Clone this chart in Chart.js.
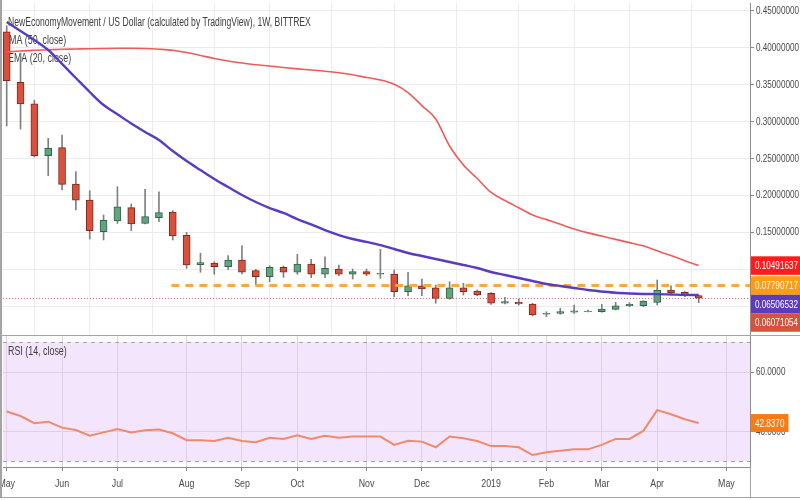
<!DOCTYPE html>
<html>
<head>
<meta charset="utf-8">
<script src="https://cdn.jsdelivr.net/npm/chart.js@4.4.0/dist/chart.umd.min.js"></script>
<style>
html, body { margin: 0; padding: 0; background: #fff; }
#wrap { position: relative; width: 800px; height: 500px; overflow: hidden; }
#top { position: absolute; left: 0; top: 0; width: 800px; height: 336px; }
#bot { position: absolute; left: 0; top: 336px; width: 800px; height: 164px; }
.ln { position: absolute; background: #a4a4a4; }
</style>
</head>
<body>
<div id="wrap">
  <div id="top"><canvas id="cTop"></canvas></div>
  <div id="bot"><canvas id="cBot"></canvas></div>
  <div class="ln" style="left:0;top:335px;width:800px;height:1px"></div>
  <div class="ln" style="left:0;top:0;width:2px;height:498px"></div>
  <div class="ln" style="left:0;top:497px;width:800px;height:1px"></div>
  <div class="ln" style="left:750px;top:467px;width:1px;height:31px"></div>
</div>
<script>
// weekly candles, week 0 = 7 May 2018 ... week 50 = 22 Apr 2019
const monthTickWeeks = [0, 4, 8, 13, 17, 21, 26, 30, 35, 39, 43, 47, 52];
const monthTickLabels = ['May', 'Jun', 'Jul', 'Aug', 'Sep', 'Oct', 'Nov', 'Dec', '2019', 'Feb', 'Mar', 'Apr', 'May'];

const opens = [0.4219, 0.3533, 0.3240, 0.2539, 0.2647, 0.2155, 0.1938, 0.1508, 0.1653, 0.1834,
  0.1622, 0.1698, 0.1775, 0.1459, 0.1061, 0.1084, 0.1034, 0.1125, 0.0980, 0.0898,
  0.1026, 0.0958, 0.1070, 0.0931, 0.1003, 0.0931, 0.0966, 0.0931, 0.0935, 0.0695,
  0.0776, 0.0749, 0.0605, 0.0749, 0.0704, 0.0673, 0.0538, 0.0551, 0.0528, 0.0389,
  0.0402, 0.0416, 0.0424, 0.0424, 0.0456, 0.0505, 0.0505, 0.0551, 0.0718, 0.0687,
  0.0641];
const highs = [0.4300, 0.3930, 0.3290, 0.2774, 0.2819, 0.2322, 0.2064, 0.1735, 0.2118, 0.1884,
  0.2083, 0.2050, 0.1793, 0.1500, 0.1215, 0.1102, 0.1183, 0.1318, 0.0998, 0.1047,
  0.1043, 0.1202, 0.1134, 0.1169, 0.1057, 0.1003, 0.1003, 0.1270, 0.0989, 0.0958,
  0.0867, 0.0786, 0.0831, 0.0809, 0.0718, 0.0682, 0.0619, 0.0596, 0.0538, 0.0424,
  0.0470, 0.0515, 0.0447, 0.0524, 0.0551, 0.0546, 0.0573, 0.0854, 0.0776, 0.0695,
  0.0650];
const lows = [0.2940, 0.2900, 0.2520, 0.2267, 0.2074, 0.1802, 0.1409, 0.1396, 0.1620, 0.1522,
  0.1613, 0.1644, 0.1396, 0.1012, 0.0958, 0.0931, 0.0998, 0.0935, 0.0786, 0.0831,
  0.0890, 0.0931, 0.0885, 0.0885, 0.0912, 0.0867, 0.0912, 0.0876, 0.0627, 0.0641,
  0.0641, 0.0538, 0.0592, 0.0650, 0.0641, 0.0524, 0.0528, 0.0514, 0.0366, 0.0356,
  0.0389, 0.0402, 0.0420, 0.0416, 0.0447, 0.0492, 0.0492, 0.0515, 0.0673, 0.0627,
  0.0546];
const closes = [0.3555, 0.3240, 0.2539, 0.2639, 0.2150, 0.1934, 0.1522, 0.1663, 0.1847, 0.1613,
  0.1712, 0.1766, 0.1450, 0.1057, 0.1088, 0.1034, 0.1125, 0.0958, 0.0898, 0.1026,
  0.0958, 0.1070, 0.0931, 0.1012, 0.0931, 0.0966, 0.0931, 0.0944, 0.0695, 0.0776,
  0.0732, 0.0605, 0.0749, 0.0695, 0.0650, 0.0538, 0.0560, 0.0528, 0.0379, 0.0402,
  0.0424, 0.0437, 0.0433, 0.0460, 0.0505, 0.0524, 0.0569, 0.0718, 0.0682, 0.0637,
  0.06071054];

const ma50 = [0.3944, 0.3958, 0.3967, 0.3974, 0.3981, 0.3985, 0.3989, 0.3992, 0.3994, 0.3994,
  0.3992, 0.3982, 0.3967, 0.3937, 0.3897, 0.3856, 0.3822, 0.3795, 0.3772, 0.3754,
  0.3734, 0.3716, 0.3700, 0.3683, 0.3662, 0.3635, 0.3599, 0.3565, 0.3506, 0.3395,
  0.3218, 0.3036, 0.2670, 0.2412, 0.2229, 0.2040, 0.1931, 0.1833, 0.1735, 0.1672,
  0.1610, 0.1545, 0.1492, 0.1449, 0.1404, 0.1360, 0.1317, 0.1250, 0.1184, 0.1116,
  0.10491637];
const ema20 = [0.4351, 0.4229, 0.4107, 0.3971, 0.3782, 0.3592, 0.3402, 0.3225, 0.3100, 0.2975,
  0.2860, 0.2751, 0.2602, 0.2467, 0.2344, 0.2223, 0.2114, 0.2006, 0.1911, 0.1829,
  0.1762, 0.1680, 0.1606, 0.1530, 0.1463, 0.1409, 0.1370, 0.1326, 0.1274, 0.1220,
  0.1179, 0.1138, 0.1097, 0.1057, 0.1016, 0.0962, 0.0921, 0.0881, 0.0840, 0.0799,
  0.0772, 0.0745, 0.0718, 0.0698, 0.0680, 0.0670, 0.0664, 0.0662, 0.0657, 0.0652,
  0.06506532];
const rsi14 = [46.7, 45.2, 42.8, 43.3, 41.3, 40.5, 38.6, 39.7, 40.8, 39.7,
  40.4, 40.7, 39.4, 37.1, 37.1, 36.8, 37.9, 36.8, 36.4, 37.9,
  37.5, 38.7, 37.5, 38.6, 37.9, 38.3, 38.3, 38.3, 35.5, 36.9,
  36.6, 34.7, 38.3, 37.7, 36.8, 35.1, 35.1, 34.7, 32.1, 33.0,
  33.5, 34.0, 34.0, 35.5, 37.5, 37.5, 40.2, 47.2, 45.8, 44.1,
  42.837];

const resistanceLevel = 0.07790717;
const resistanceFromWeek = 11.9;
const priceTicks = [0.05, 0.10, 0.15, 0.20, 0.25, 0.30, 0.35, 0.40, 0.45];
const rsiTicks = [40, 60];
const rsiBand = [30, 70];

const titleText = 'NewEconomyMovement / US Dollar (calculated by TradingView), 1W, BITTREX';
const maLabel = 'MA (50, close)';
const emaLabel = 'EMA (20, close)';
const rsiLabel = 'RSI (14, close)';

// view ranges (so the panes line up with the screenshot)
const X_MIN = -0.267, X_MAX = 53.707;
const P_MIN = 0.01215, P_MAX = 0.46084;
const R_MIN = 28.07, R_MAX = 72.1;

const FONT = "'Liberation Sans', Arial, sans-serif";
const SX = 0.74; // the screenshot text is squeezed sideways
Chart.defaults.font.family = FONT;
Chart.defaults.animation = false;

const last = closes.length - 1;
const UP = '#62a47f', UP_EDGE = '#2f6446', DN = '#d9503c', DN_EDGE = '#7c2a1f';
const isUp = closes.map((c, i) => c >= opens[i]);

function noPad(s) { s.paddingLeft = 0; s.paddingRight = 0; s.paddingTop = 0; s.paddingBottom = 0; }

function narrow(ctx, txt, x, y, color, align, sx, size) {
    ctx.save();
    ctx.font = (size || 11) + 'px ' + FONT;
    ctx.fillStyle = color;
    ctx.textBaseline = 'middle';
    ctx.textAlign = align || 'left';
    ctx.translate(x, y);
    ctx.scale(sx || SX, 1);
    ctx.fillText(txt, 0, 0);
    ctx.restore();
}
function narrowWidth(ctx, txt) {
    ctx.save(); ctx.font = '11px ' + FONT;
    const w = ctx.measureText(txt).width * SX;
    ctx.restore();
    return w;
}

// ---------------- price pane ----------------
const topDecor = {
    id: 'topDecor',
    beforeDatasetsDraw(chart) {
        const { ctx, chartArea: a, scales: { y } } = chart;
        narrow(ctx, titleText, 8, 23, '#404040', 'left', 0.715, 12);
        narrow(ctx, maLabel, 9, 41, '#404040', 'left', 0.74, 12);
        narrow(ctx, emaLabel, 8, 59, '#404040', 'left', 0.74, 12);
        const py = Math.round(y.getPixelForValue(closes[last])) + 0.5;
        ctx.save();
        ctx.strokeStyle = '#e56a66';
        ctx.lineWidth = 1;
        ctx.setLineDash([1, 2]);
        ctx.beginPath(); ctx.moveTo(a.left, py); ctx.lineTo(a.right, py); ctx.stroke();
        ctx.restore();
    },
    afterDraw(chart) {
        const { ctx, chartArea: a, scales: { y } } = chart;
        priceTicks.forEach(v => narrow(ctx, v.toFixed(8), a.right + 6, y.getPixelForValue(v), '#4a4a4a'));
        const boxes = [
            { v: ma50[last], c: '#ff1c1c' },
            { v: resistanceLevel, c: '#ff9c12' },
            { v: ema20[last], c: '#5a3cbd' },
            { v: closes[last], c: '#d9503c' }
        ].map(b => Object.assign(b, { py: y.getPixelForValue(b.v) })).sort((p, q) => p.py - q.py);
        const h = 18.5;
        let prev = -1e9;
        boxes.forEach(b => {
            const cy = Math.max(b.py, prev + h);
            prev = cy;
            ctx.fillStyle = b.c;
            ctx.fillRect(a.right + 1, cy - h / 2, 49, h);
            narrow(ctx, b.v.toFixed(8), a.right + 5, cy + 0.5, '#fff');
        });
    }
};

new Chart(document.getElementById('cTop'), {
    type: 'bar',
    data: {
        datasets: [
            {
                label: 'wick', order: 6, grouped: false, barThickness: 1,
                data: closes.map((c, i) => ({ x: i, y: [lows[i], highs[i]] })),
                backgroundColor: '#808080', borderWidth: 0
            },
            {
                label: 'body', order: 5, grouped: false, barThickness: 7,
                data: closes.map((c, i) => ({ x: i, y: [opens[i], c] })),
                backgroundColor: isUp.map(u => u ? UP : DN),
                borderColor: isUp.map(u => u ? UP_EDGE : DN_EDGE),
                borderWidth: 1, borderSkipped: false
            },
            {
                type: 'line', label: 'resistance', order: 4,
                data: [{ x: resistanceFromWeek, y: resistanceLevel }, { x: X_MAX, y: resistanceLevel }],
                borderColor: '#fba83c', borderWidth: 3, borderDash: [8, 6], pointRadius: 0
            },
            {
                type: 'line', label: maLabel, order: 3,
                data: ma50.map((v, i) => ({ x: i, y: v })),
                borderColor: '#f05a5a', borderWidth: 1.6, pointRadius: 0, cubicInterpolationMode: 'monotone'
            },
            {
                type: 'line', label: emaLabel, order: 2,
                data: ema20.map((v, i) => ({ x: i, y: v })),
                borderColor: '#5a3cc0', borderWidth: 2.4, pointRadius: 0, cubicInterpolationMode: 'monotone'
            }
        ]
    },
    options: {
        responsive: true,
        maintainAspectRatio: false,
        layout: { padding: { left: 3, top: 3, right: 0, bottom: 2 } },
        plugins: { legend: { display: false }, tooltip: { enabled: false } },
        scales: {
            x: {
                type: 'linear', min: X_MIN, max: X_MAX, offset: false,
                afterBuildTicks: s => { s.ticks = monthTickWeeks.map(v => ({ value: v })); },
                ticks: { display: false },
                grid: { color: '#ececec', drawTicks: false },
                border: { display: false },
                afterFit: s => { s.height = 0; noPad(s); }
            },
            y: {
                position: 'right', min: P_MIN, max: P_MAX,
                afterBuildTicks: s => { s.ticks = priceTicks.map(v => ({ value: v })); },
                ticks: { display: false },
                grid: { color: '#ececec', tickColor: '#8a8a8a', tickLength: 4 },
                border: { color: '#8c8c8c' },
                afterFit: s => { s.width = 50; noPad(s); }
            }
        }
    },
    plugins: [topDecor]
});

// ---------------- RSI pane ----------------
const rsiDecor = {
    id: 'rsiDecor',
    beforeDraw(chart) {
        const { ctx, chartArea: a, scales: { y } } = chart;
        const y1 = y.getPixelForValue(rsiBand[1]), y0 = y.getPixelForValue(rsiBand[0]);
        ctx.save();
        ctx.fillStyle = '#f3e5fc';
        ctx.fillRect(a.left, y1, a.right - a.left, y0 - y1);
        ctx.restore();
    },
    beforeDatasetsDraw(chart) {
        const { ctx, chartArea: a, scales: { y } } = chart;
        ctx.save();
        ctx.strokeStyle = '#a3a3a3';
        ctx.lineWidth = 1;
        ctx.setLineDash([4, 4]);
        rsiBand.forEach(v => {
            const py = Math.round(y.getPixelForValue(v)) + 0.5;
            ctx.beginPath(); ctx.moveTo(a.left, py); ctx.lineTo(a.right, py); ctx.stroke();
        });
        ctx.restore();
        narrow(ctx, rsiLabel, 8, 16, '#404040', 'left', 0.74, 12);
    },
    afterDraw(chart) {
        const { ctx, chartArea: a, scales: { x, y } } = chart;
        rsiTicks.forEach(v => narrow(ctx, v.toFixed(4), a.right + 6, y.getPixelForValue(v), '#4a4a4a'));
        monthTickWeeks.forEach((w, i) => narrow(ctx, monthTickLabels[i], x.getPixelForValue(w), a.bottom + 17, '#4a4a4a', 'center', 0.8));
        const v = rsi14[last];
        const txt = v.toFixed(4);
        const cy = y.getPixelForValue(v);
        ctx.fillStyle = '#fb7a12';
        ctx.fillRect(a.right + 1, cy - 9, narrowWidth(ctx, txt) + 8, 18);
        narrow(ctx, txt, a.right + 5, cy + 0.5, '#fff');
    }
};

new Chart(document.getElementById('cBot'), {
    type: 'line',
    data: {
        datasets: [{
            label: rsiLabel,
            data: rsi14.map((v, i) => ({ x: i, y: v })),
            borderColor: '#f08a6c', borderWidth: 2, pointRadius: 0, tension: 0
        }]
    },
    options: {
        responsive: true,
        maintainAspectRatio: false,
        layout: { padding: { left: 3, top: 0, right: 0, bottom: 3 } },
        plugins: { legend: { display: false }, tooltip: { enabled: false } },
        scales: {
            x: {
                type: 'linear', min: X_MIN, max: X_MAX, offset: false,
                afterBuildTicks: s => { s.ticks = monthTickWeeks.map(v => ({ value: v })); },
                ticks: { display: false },
                grid: { color: '#ddd2e8', tickColor: '#8a8a8a', tickLength: 4 },
                border: { color: '#8c8c8c' },
                afterFit: s => { s.height = 30; noPad(s); }
            },
            y: {
                position: 'right', min: R_MIN, max: R_MAX,
                afterBuildTicks: s => { s.ticks = rsiTicks.map(v => ({ value: v })); },
                ticks: { display: false },
                grid: { color: '#dcd0e8', tickColor: '#8a8a8a', tickLength: 4 },
                border: { color: '#8c8c8c' },
                afterFit: s => { s.width = 50; noPad(s); }
            }
        }
    },
    plugins: [rsiDecor]
});
</script>
</body>
</html>
